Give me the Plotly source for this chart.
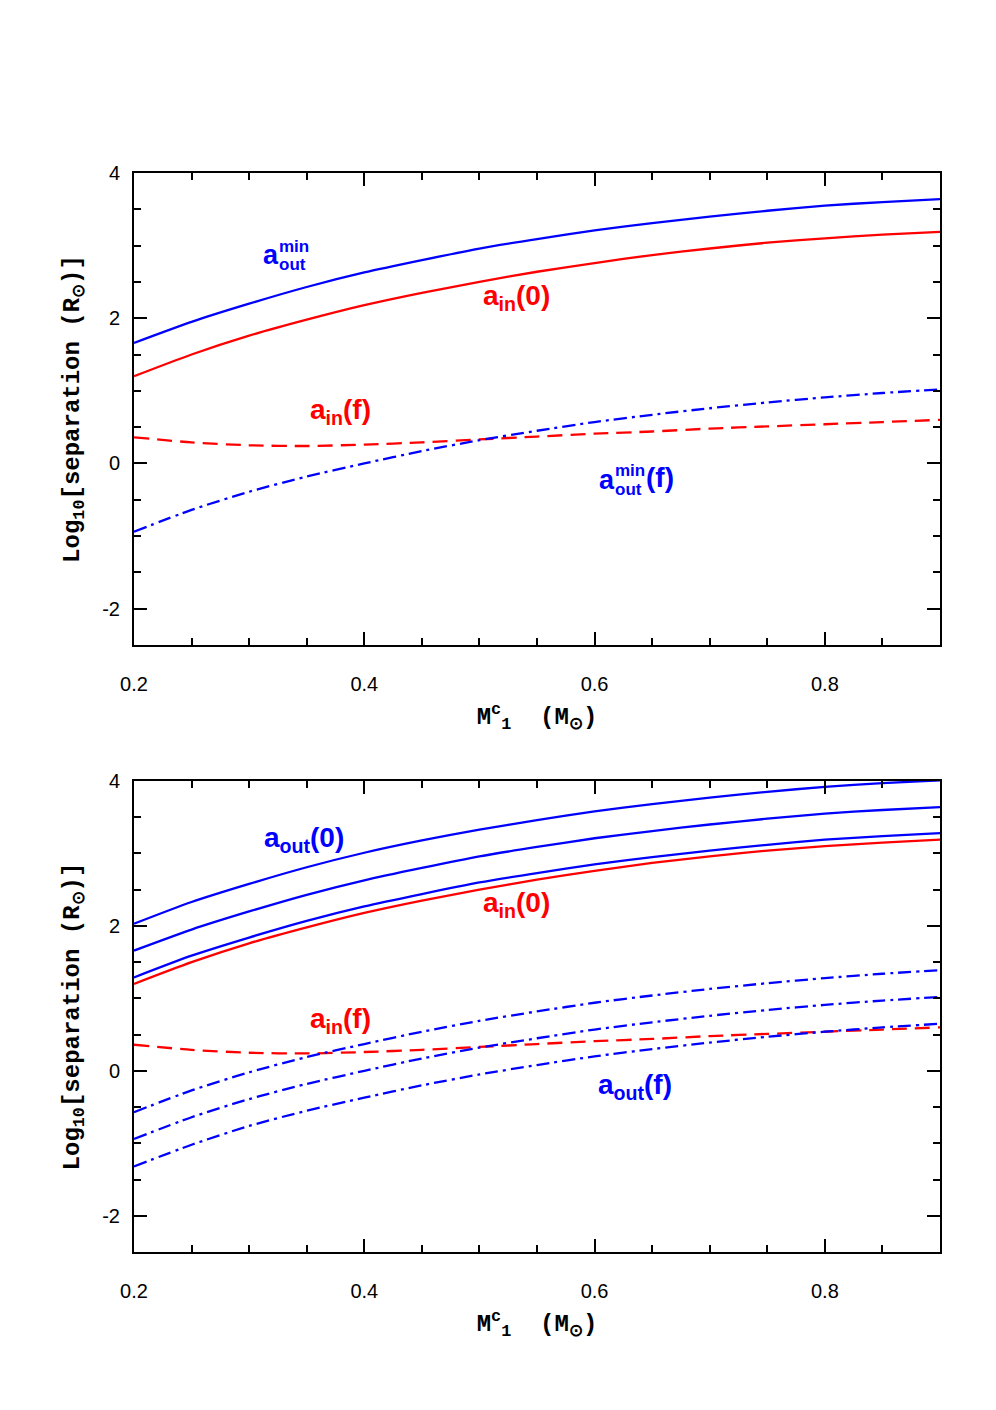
import plotly.graph_objects as go

# ---------------- data ----------------
mass = [0.2, 0.25, 0.3, 0.35, 0.4, 0.45, 0.5, 0.55, 0.6, 0.65, 0.7, 0.75, 0.8, 0.85, 0.9]

# top panel
aout_min = [1.66, 1.95, 2.20, 2.43, 2.63, 2.80, 2.96, 3.09, 3.21, 3.31, 3.40, 3.48, 3.55, 3.60, 3.64]
ain_0 = [1.20, 1.50, 1.76, 1.98, 2.18, 2.35, 2.50, 2.64, 2.76, 2.87, 2.96, 3.04, 3.10, 3.15, 3.19]
ain_f = [0.36, 0.29, 0.25, 0.24, 0.26, 0.29, 0.33, 0.37, 0.41, 0.44, 0.48, 0.51, 0.54, 0.57, 0.60]
aout_min_f = [-0.94, -0.64, -0.39, -0.18, 0.00, 0.17, 0.32, 0.45, 0.57, 0.67, 0.76, 0.84, 0.91, 0.97, 1.02]

# bottom panel
aout0_hi = [2.03, 2.33, 2.58, 2.81, 3.01, 3.18, 3.33, 3.46, 3.58, 3.68, 3.77, 3.85, 3.92, 3.97, 4.01]
aout0_mid = [1.66, 1.95, 2.20, 2.43, 2.63, 2.80, 2.96, 3.09, 3.21, 3.31, 3.40, 3.48, 3.55, 3.60, 3.64]
aout0_lo = [1.29, 1.59, 1.84, 2.07, 2.27, 2.44, 2.60, 2.73, 2.85, 2.95, 3.04, 3.12, 3.19, 3.24, 3.28]
aoutf_hi = [-0.57, -0.27, -0.02, 0.19, 0.37, 0.54, 0.69, 0.82, 0.94, 1.04, 1.13, 1.21, 1.28, 1.34, 1.39]
aoutf_mid = [-0.94, -0.64, -0.39, -0.18, 0.00, 0.17, 0.32, 0.45, 0.57, 0.67, 0.76, 0.84, 0.91, 0.97, 1.02]
aoutf_lo = [-1.32, -1.02, -0.76, -0.55, -0.37, -0.20, -0.05, 0.08, 0.20, 0.30, 0.39, 0.47, 0.54, 0.60, 0.65]

x_tickvals = [0.2, 0.4, 0.6, 0.8]
x_ticktext = ["0.2", "0.4", "0.6", "0.8"]
y_tickvals = [-2, 0, 2, 4]
y_ticktext = ["-2", "0", "2", "4"]

BLUE = "#0000ff"
RED = "#ff0000"
DASH = "15px,8px"
DASHDOT = "13px,5px,3px,5px"

fig = go.Figure()


def line(y, color, dash, xa, ya):
    fig.add_trace(go.Scatter(x=mass, y=y, mode="lines", xaxis=xa, yaxis=ya,
                             line=dict(color=color, width=2.3, dash=dash, shape="spline", smoothing=0.7),
                             showlegend=False, hoverinfo="skip"))


# top
line(aout_min, BLUE, "solid", "x", "y")
line(ain_0, RED, "solid", "x", "y")
line(ain_f, RED, DASH, "x", "y")
line(aout_min_f, BLUE, DASHDOT, "x", "y")
# bottom
line(aout0_hi, BLUE, "solid", "x2", "y2")
line(aout0_mid, BLUE, "solid", "x2", "y2")
line(aout0_lo, BLUE, "solid", "x2", "y2")
line(ain_0, RED, "solid", "x2", "y2")
line(ain_f, RED, DASH, "x2", "y2")
line(aoutf_hi, BLUE, DASHDOT, "x2", "y2")
line(aoutf_mid, BLUE, DASHDOT, "x2", "y2")
line(aoutf_lo, BLUE, DASHDOT, "x2", "y2")

TITLE_FONT = dict(family="Liberation Mono", size=24, color="black", weight="bold")
TICK_FONT = dict(family="Liberation Sans, Arial", size=20, color="black")


def xaxis(anchor):
    return dict(range=[0.2, 0.9], anchor=anchor, showline=True, linewidth=2, linecolor="black",
                mirror="ticks", ticks="inside", ticklen=13, tickwidth=2, tickcolor="black",
                tickmode="array", tickvals=x_tickvals, ticktext=x_ticktext, tickfont=TICK_FONT,
                ticklabelstandoff=20,
                minor=dict(ticks="inside", ticklen=7, tickwidth=2, tickcolor="black",
                           tickmode="linear", tick0=0.2, dtick=0.05),
                showgrid=False, zeroline=False,
                title=dict(text="M<sup>c</sup><sub>1</sub>  (M<sub>⊙</sub>)", font=TITLE_FONT, standoff=13))


def yaxis(anchor, domain):
    return dict(range=[-2.5, 4], domain=domain, anchor=anchor, showline=True, linewidth=2, linecolor="black",
                mirror="ticks", ticks="inside", ticklen=13, tickwidth=2, tickcolor="black",
                tickmode="array", tickvals=y_tickvals, ticktext=y_ticktext, tickfont=TICK_FONT,
                ticklabelstandoff=8,
                minor=dict(ticks="inside", ticklen=7, tickwidth=2, tickcolor="black",
                           tickmode="linear", tick0=0, dtick=0.5),
                showgrid=False, zeroline=False,
                title=dict(text="Log<sub>10</sub>[separation (R<sub>⊙</sub>)]", font=TITLE_FONT, standoff=16))


LABEL = "Liberation Sans, Arial"


def ann(text, x, y, color, size, xref, yref):
    fig.add_annotation(text=f"<b>{text}</b>", x=x, y=y, xref=xref, yref=yref,
                       xanchor="left", yanchor="middle", showarrow=False,
                       font=dict(family=LABEL, size=size, color=color))


# top panel labels
ann("a", 0.3105, 2.87, BLUE, 27, "x", "y")
ann("min", 0.3245, 2.99, BLUE, 17, "x", "y")
ann("out", 0.3245, 2.74, BLUE, 17, "x", "y")
ann("a<sub>in</sub>(0)", 0.5010, 2.29, RED, 28, "x", "y")
ann("a<sub>in</sub>(f)", 0.3515, 0.71, RED, 28, "x", "y")
ann("a", 0.6020, -0.23, BLUE, 27, "x", "y")
ann("min", 0.6160, -0.10, BLUE, 17, "x", "y")
ann("out", 0.6160, -0.36, BLUE, 17, "x", "y")
ann("(f)", 0.6426, -0.20, BLUE, 28, "x", "y")

# bottom panel labels
ann("a<sub>out</sub>(0)", 0.3115, 3.19, BLUE, 28, "x2", "y2")
ann("a<sub>in</sub>(0)", 0.5010, 2.30, RED, 28, "x2", "y2")
ann("a<sub>in</sub>(f)", 0.3515, 0.70, RED, 28, "x2", "y2")
ann("a<sub>out</sub>(f)", 0.6010, -0.21, BLUE, 28, "x2", "y2")

top_dom = [0.5626, 1.0]
bot_dom = [0.0, 0.4365]

fig.update_layout(
    width=980, height=1394,
    margin=dict(l=126, r=48, t=165, b=150, autoexpand=False),
    paper_bgcolor="white", plot_bgcolor="white",
    xaxis=xaxis("y"), yaxis=yaxis("x", top_dom),
    xaxis2=xaxis("y2"), yaxis2=yaxis("x2", bot_dom),
    showlegend=False,
)

fig.write_html("out.html")
